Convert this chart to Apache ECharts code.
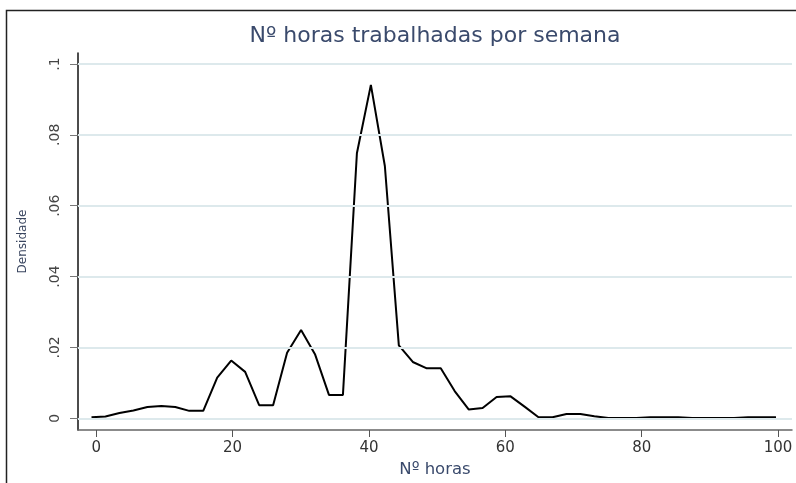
<!DOCTYPE html>
<html>
<head>
<meta charset="utf-8">
<script src="https://cdn.jsdelivr.net/npm/echarts@6/dist/echarts.min.js"></script>
<style>
html,body{margin:0;padding:0;background:#fff;}
#chart{width:796px;height:483px;}
</style>
</head>
<body>
<div id="chart"></div>
<script>
// Kernel density evaluation points (hours) and density values
const hours = [-0.70, 1.35, 3.40, 5.45, 7.50, 9.55, 11.59, 13.64, 15.69, 17.74,
  19.79, 21.84, 23.89, 25.94, 27.99, 30.04, 32.08, 34.13, 36.18, 38.23,
  40.28, 42.33, 44.38, 46.43, 48.48, 50.53, 52.57, 54.62, 56.67, 58.72,
  60.77, 62.82, 64.87, 66.92, 68.97, 71.01, 73.06, 75.11, 77.16, 79.21,
  81.26, 83.31, 85.36, 87.41, 89.45, 91.50, 93.55, 95.60, 97.65, 99.70];
const density = [0.0003, 0.0005, 0.0015, 0.0022, 0.0032, 0.0035, 0.0032, 0.0021, 0.0021, 0.0115,
  0.0163, 0.0131, 0.0037, 0.0037, 0.0185, 0.0249, 0.0181, 0.0066, 0.0066, 0.0748,
  0.0941, 0.0712, 0.0206, 0.0159, 0.0141, 0.0141, 0.0077, 0.0025, 0.0029, 0.0060,
  0.0062, 0.0033, 0.0003, 0.0003, 0.0012, 0.0012, 0.0006, 0.0001, 0.0001, 0.0001,
  0.0003, 0.0003, 0.0003, 0.0001, 0.0001, 0.0001, 0.0001, 0.0003, 0.0003, 0.0003];
const xTicks = [0, 20, 40, 60, 80, 100];
const yTicks = [0, 0.02, 0.04, 0.06, 0.08, 0.1];
const yTickLabels = ['0', '.02', '.04', '.06', '.08', '.1'];
const titleText = 'Nº horas trabalhadas por semana';

const chart = echarts.init(document.getElementById('chart'), null, {renderer: 'canvas'});
const FONT = 'DejaVu Sans';
chart.setOption({
  animation: false,
  backgroundColor: '#ffffff',
  graphic: [{
    type: 'rect',
    shape: {x: 6.5, y: 10.5, width: 800, height: 500},
    style: {fill: null, stroke: '#222', lineWidth: 1.5},
    silent: true,
    z: 0
  }, {
    type: 'text',
    x: 435, y: 36,
    style: {
      text: titleText, align: 'center', verticalAlign: 'middle',
      font: 'normal 22px "DejaVu Sans"', fill: '#3a4a6c'
    },
    silent: true,
    z: 5
  }],
  grid: {left: 78, right: 4, top: 53, bottom: 52, containLabel: false},
  xAxis: {
    type: 'value',
    min: -2.68, max: 102.05,
    name: 'Nº horas',
    nameLocation: 'middle',
    nameGap: 31,
    nameTextStyle: {fontFamily: FONT, fontSize: 16.5, color: '#3a4a6c'},
    axisLine: {show: true, onZero: false, lineStyle: {color: '#666', width: 1.5}},
    axisTick: {show: true, customValues: xTicks, length: 7, lineStyle: {color: '#555', width: 1}},
    axisLabel: {customValues: xTicks, margin: 11, fontFamily: FONT, fontSize: 15, color: '#333'},
    splitLine: {show: false}
  },
  yAxis: {
    type: 'value',
    min: -0.0033, max: 0.1031,
    name: 'Densidade',
    nameLocation: 'middle',
    nameRotate: 90,
    nameGap: 49,
    nameTextStyle: {fontFamily: FONT, fontSize: 12, color: '#3a4660'},
    axisLine: {show: true, onZero: false, lineStyle: {color: '#111', width: 1.5}},
    axisTick: {show: true, customValues: yTicks, length: 8, lineStyle: {color: '#777', width: 1}},
    axisLabel: {
      customValues: yTicks, rotate: 90, margin: 16,
      fontFamily: FONT, fontSize: 14, color: '#444',
      formatter: function (v) {
        const i = yTicks.findIndex(t => Math.abs(t - v) < 1e-9);
        return i >= 0 ? yTickLabels[i] : '';
      }
    },
    splitLine: {show: false}
  },
  series: [{
    type: 'line',
    data: [],
    z: 1,
    silent: true,
    markLine: {
      silent: true,
      symbol: 'none',
      label: {show: false},
      lineStyle: {color: '#dde9ec', width: 2, type: 'solid'},
      data: yTicks.map(v => ({yAxis: v}))
    }
  }, {
    type: 'line',
    z: 3,
    data: hours.map((h, i) => [h, density[i]]),
    showSymbol: false,
    symbol: 'none',
    smooth: false,
    lineStyle: {color: '#000', width: 2}
  }]
});
</script>
</body>
</html>
